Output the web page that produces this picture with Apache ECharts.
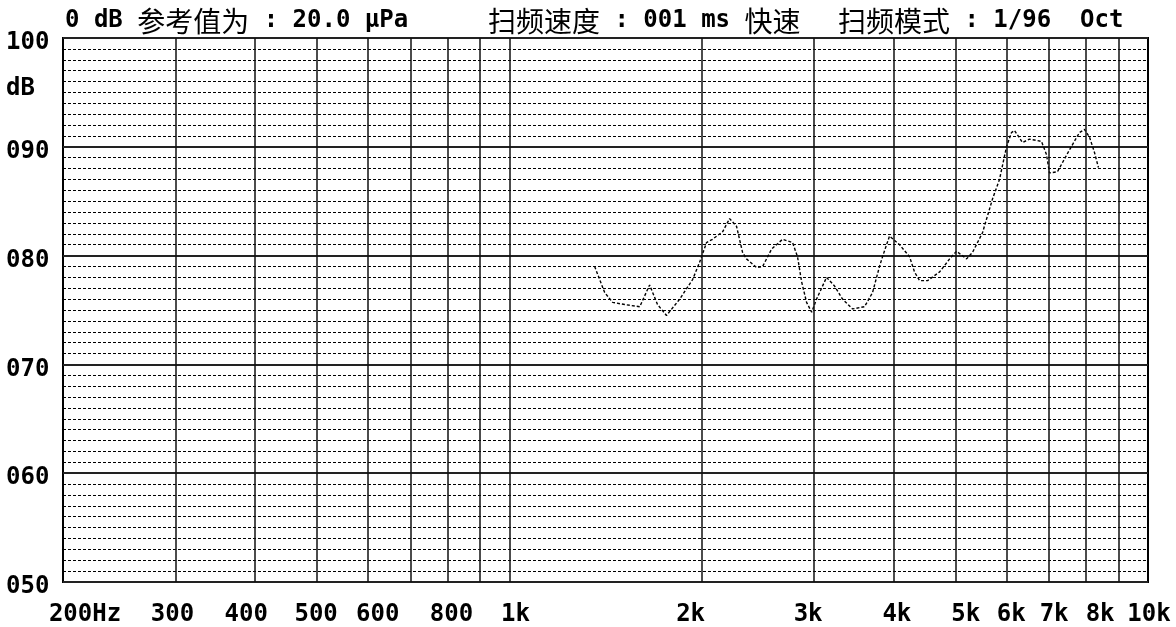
<!DOCTYPE html>
<html><head><meta charset="utf-8">
<script src="https://cdn.jsdelivr.net/npm/echarts@6/dist/echarts.min.js"></script>
<style>html,body{margin:0;padding:0;background:#fff}#c{width:1176px;height:627px}</style>
</head><body><div id="c"></div>
<script>
// ---- data ----
const freqs = [1360,1410,1451,1516,1600,1658,1706,1762,1848,1936,1986,2036,2080,2158,2212,2268,2318,2351,2438,2492,2574,2678,2776,2826,2868,2920,2974,3027,3138,3230,3324,3447,3598,3704,3798,3840,3938,4083,4233,4309,4389,4518,4718,4891,5015,5198,5312,5506,5708,5854,6004,6112,6180,6359,6522,6810,6934,7010,7214,7532,7808,7951,8097,8243,8363];
const levels = [79.0,76.6,75.7,75.5,75.3,77.3,75.5,74.5,76.0,77.8,79.4,81.2,81.5,82.2,83.4,82.7,80.3,79.7,78.9,79.0,80.6,81.5,81.2,79.9,77.6,75.7,74.8,76.0,78.0,77.2,76.0,75.1,75.3,76.6,79.0,79.9,81.8,81.0,79.9,78.5,77.7,77.7,78.5,79.7,80.4,79.7,80.3,82.1,85.2,87.0,90.0,91.3,91.5,90.4,90.7,90.5,89.3,87.6,87.7,89.7,91.3,91.6,90.9,89.5,88.1];
const xGridValues = [300,400,500,600,700,800,900,1000,2000,3000,4000,5000,6000,7000,8000,9000];
const xTickValues = [200,300,400,500,600,800,1000,2000,3000,4000,5000,6000,7000,8000,10000];
const xTickLabels = ['200Hz','300','400','500','600','800','1k','2k','3k','4k','5k','6k','7k','8k','10k'];
const yTickValues = [50,60,70,80,90,100];
const yTickLabels = ['050','060','070','080','090','100'];
const titleParts = [
  [['m','0 dB '],['c','参考值为'],['m',' : 20.0 μPa']],
  [['c','扫频速度'],['m',' : 001 ms '],['c','快速']],
  [['c','扫频模式'],['m',' : 1/96  Oct']]
];
const unitLabel = 'dB';

// ---- layout / style ----
const MONO = 'DejaVu Sans Mono';
const CJK = 'Noto Sans CJK SC';
const xLabelShift = [22,-3,-9,-1,10,4,6,-11,-6,3,10,5,5,14,1];
const titleLeft = [65, 488, 838];

const rich = {};
xTickLabels.forEach((t, i) => {
  const d = xLabelShift[i];
  rich['s' + i] = {
    fontFamily: MONO, fontWeight: 'bold', fontSize: 24, color: '#000',
    padding: d >= 0 ? [0, 0, 0, 2 * d] : [0, -2 * d, 0, 0]
  };
});
const yRich = {
  y: {fontFamily: MONO, fontWeight: 'bold', fontSize: 24, color: '#000', padding: [10, 0, 0, 0]}
};
const titleRich = {
  m: {fontFamily: MONO, fontWeight: 'bold', fontSize: 24, color: '#000', verticalAlign: 'middle'},
  c: {fontFamily: CJK, fontWeight: 'normal', fontSize: 28, color: '#000', verticalAlign: 'middle'}
};
const titles = titleParts.map((parts, i) => ({
  left: titleLeft[i], top: 7, padding: 0,
  text: parts.map(p => '{' + p[0] + '|' + p[1] + '}').join(''),
  textStyle: {rich: titleRich}
}));
titles.push({
  left: 6, top: 77, padding: 0, text: unitLabel,
  textStyle: {fontFamily: MONO, fontWeight: 'bold', fontSize: 24, color: '#000'}
});

const chart = echarts.init(document.getElementById('c'), null, {renderer: 'canvas'});
chart.setOption({
  animation: false,
  backgroundColor: '#fff',
  title: titles,
  grid: {left: 63, top: 38, right: 28, bottom: 43, show: true, borderColor: '#000', borderWidth: 2, backgroundColor: 'transparent'},
  xAxis: {
    type: 'log', logBase: 10, min: 200, max: 10000,
    axisLine: {show: false}, axisTick: {show: false}, splitLine: {show: false},
    axisLabel: {
      customValues: xTickValues,
      margin: 21,
      formatter: v => {
        const i = xTickValues.findIndex(t => Math.abs(t - v) < 1e-6 * t);
        return i < 0 ? '' : '{s' + i + '|' + xTickLabels[i] + '}';
      },
      rich: rich
    }
  },
  yAxis: {
    type: 'value', min: 50, max: 100, interval: 10,
    axisLine: {show: false}, axisTick: {show: false},
    axisLabel: {
      align: 'left', margin: 57,
      formatter: v => { const i = yTickValues.indexOf(v); return i < 0 ? '' : '{y|' + yTickLabels[i] + '}'; },
      rich: yRich
    },
    splitLine: {show: true, lineStyle: {color: '#222', width: 2}},
    minorTick: {show: false, splitNumber: 10},
    minorSplitLine: {show: true, lineStyle: {color: '#000', width: 1, type: [3, 2]}}
  },
  series: [{
    type: 'line',
    data: freqs.map((f, i) => [f, levels[i]]),
    showSymbol: false, symbol: 'none',
    lineStyle: {color: '#000', width: 1.4, type: [3, 2]},
    silent: true,
    markLine: {
      silent: true, symbol: 'none', label: {show: false},
      lineStyle: {color: '#111', width: 1.5, type: 'solid'},
      data: xGridValues.map(v => ({xAxis: v}))
    }
  }]
});
</script></body></html>
